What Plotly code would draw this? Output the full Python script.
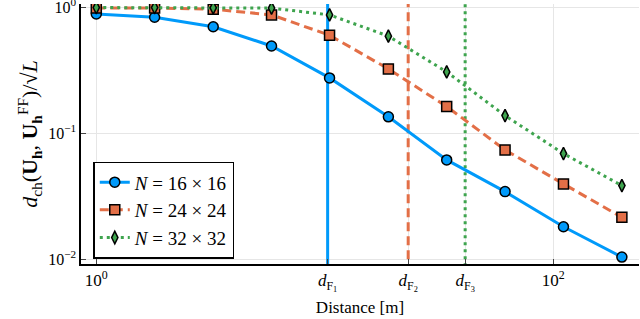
import plotly.graph_objects as go

distance = [1.0, 1.8, 3.25, 5.85, 10.5, 19.0, 34.2, 61.6, 111.0, 200.0]
err_16 = [0.885, 0.833, 0.70, 0.493, 0.275, 0.135, 0.0614, 0.0344, 0.0181, 0.0104]
err_24 = [0.985, 0.985, 0.965, 0.87, 0.60, 0.324, 0.163, 0.0737, 0.0396, 0.0215]
err_32 = [0.995, 0.995, 0.99, 0.985, 0.87, 0.59, 0.307, 0.138, 0.069, 0.0384]
d_fraunhofer = [10.3, 23.2, 41.2]
series_names = ["<i>N</i> = 16 × 16", "<i>N</i> = 24 × 24", "<i>N</i> = 32 × 32"]
x_tickvals = [1, 10.3, 23.2, 41.2, 100]
x_ticktext = ["10<sup>0</sup>", "<i>d</i><sub>F<sub>1</sub></sub>", "<i>d</i><sub>F<sub>2</sub></sub>",
              "<i>d</i><sub>F<sub>3</sub></sub>", "10<sup>2</sup>"]
y_tickvals = [1, 0.1, 0.01]
y_ticktext = ["10<sup>0</sup>", "10<sup>−1</sup>", "10<sup>−2</sup>"]

colors = ["#009AFA", "#E36F47", "#3EA44E"]
dashes = ["solid", "9px,5px", "3px,4px"]
symbols = ["circle", "square", "diamond-tall"]
sizes = [10, 10, 9]

fig = go.Figure()
for d, c, ds in zip(d_fraunhofer, colors, dashes):
    fig.add_trace(go.Scatter(x=[d, d], y=[1e-3, 10], mode="lines",
                             line=dict(color=c, width=3, dash=ds),
                             showlegend=False, hoverinfo="skip"))

for ys, name, c, ds, sym, sz in zip([err_16, err_24, err_32], series_names, colors, dashes, symbols, sizes):
    fig.add_trace(go.Scatter(x=distance, y=ys, mode="lines+markers", name=name,
                             line=dict(color=c, width=3, dash=ds),
                             marker=dict(symbol=sym, size=sz, color=c,
                                         line=dict(color="black", width=1.5))))

fam = "Liberation Serif, DejaVu Serif, serif"
font = dict(family=fam, size=16, color="black")

fig.update_layout(
    width=640, height=319,
    margin=dict(l=81, r=1, t=4, b=55),
    paper_bgcolor="white", plot_bgcolor="white",
    font=font,
    showlegend=True,
    legend=dict(x=0.022, y=0.02, xanchor="left", yanchor="bottom",
                bgcolor="white", bordercolor="black", borderwidth=1.5,
                font=dict(family=fam, size=19),
                tracegroupgap=0, itemwidth=30),
)
fig.update_xaxes(type="log", range=[-0.067, 2.376], automargin=False,
                 tickvals=x_tickvals, ticktext=x_ticktext,
                 ticklabeloverflow="allow",
                 showgrid=True, gridcolor="#e6e6e6", gridwidth=1,
                 showline=True, linecolor="black", linewidth=1.5,
                 ticks="inside", ticklen=5, tickcolor="#444",
                 tickfont=dict(size=17),
                 title=dict(text="Distance [m]", font=dict(size=17), standoff=8),
                 zeroline=False)
fig.update_yaxes(type="log", range=[-2.038, 0.026], automargin=False,
                 tickvals=y_tickvals, ticktext=y_ticktext,
                 ticklabeloverflow="allow",
                 showgrid=True, gridcolor="#e6e6e6", gridwidth=1,
                 showline=True, linecolor="black", linewidth=1.5,
                 ticks="inside", ticklen=5, tickcolor="#444",
                 tickfont=dict(size=16),
                 title=dict(text="<i>d</i><sub>ch</sub>(<b>U</b><sub><b>h</b></sub>, <b>U</b><sub><b>h</b></sub><sup>FF</sup>)/√<i>L</i>",
                            font=dict(size=22), standoff=4),
                 zeroline=False)

fig.write_html("out.html", config={"displayModeBar": False},
               post_script="document.body.style.margin='0px';")
